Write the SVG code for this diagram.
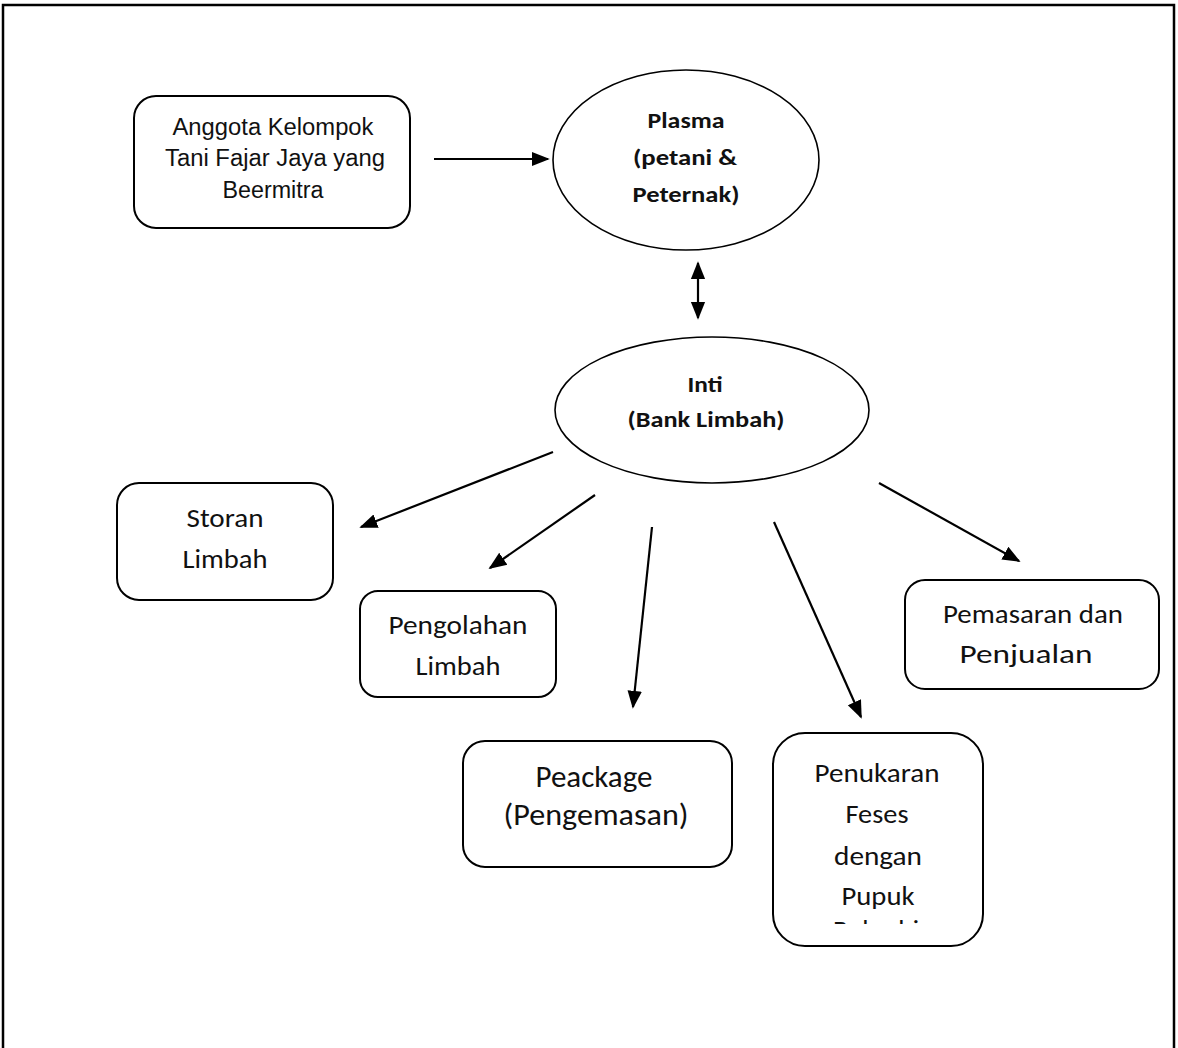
<svg xmlns="http://www.w3.org/2000/svg" width="1178" height="1048" viewBox="0 0 1178 1048">
<style>
.box{fill:#fff;stroke:#000;stroke-width:2}
.ell{fill:#fff;stroke:#000;stroke-width:1.6}
.arial{font-family:"Liberation Sans",Arial,sans-serif;font-size:23px;fill:#111;text-anchor:middle}
.cal{font-family:Carlito,Lato,"Open Sans",sans-serif;fill:#111;text-anchor:middle}
.bold{font-weight:bold;font-size:23px}
.con{stroke:#000;stroke-width:2.2;fill:none}
</style>
<defs>
<marker id="ahb" viewBox="0 0 10 10" refX="9" refY="5" markerWidth="18" markerHeight="18" markerUnits="userSpaceOnUse" orient="auto-start-reverse">
<path d="M0,1 L10,5 L0,9 z" fill="#000"/>
</marker>
<clipPath id="clipPen"><rect x="772" y="733" width="212" height="191"/></clipPath>
</defs>
<rect width="1178" height="1048" fill="#fff"/>
<path d="M3,1048 L3,5 L1174,5 L1174,1048" fill="none" stroke="#000" stroke-width="2.5"/>

<g id="anggota">
<rect class="box" x="134" y="96" width="276" height="132" rx="22"/>
<text class="arial" x="273" y="135" textLength="201" lengthAdjust="spacingAndGlyphs">Anggota Kelompok</text>
<text class="arial" x="275" y="166" textLength="220" lengthAdjust="spacingAndGlyphs">Tani Fajar Jaya yang</text>
<text class="arial" x="273" y="198" textLength="101" lengthAdjust="spacingAndGlyphs">Beermitra</text>
</g>
<g id="plasma">
<ellipse class="ell" cx="686" cy="160" rx="133" ry="90"/>
<text class="cal bold" x="686" y="128" textLength="77" lengthAdjust="spacingAndGlyphs">Plasma</text>
<text class="cal bold" x="685" y="165" textLength="104" lengthAdjust="spacingAndGlyphs">(petani &amp;</text>
<text class="cal bold" x="686" y="202" textLength="107" lengthAdjust="spacingAndGlyphs">Peternak)</text>
</g>
<g id="inti">
<ellipse class="ell" cx="712" cy="410" rx="157" ry="73"/>
<text class="cal bold" x="705" y="392" textLength="35" lengthAdjust="spacingAndGlyphs">Inti</text>
<text class="cal bold" x="706" y="427" textLength="157" lengthAdjust="spacingAndGlyphs">(Bank Limbah)</text>
</g>
<g id="storan">
<rect class="box" x="117" y="483" width="216" height="117" rx="22"/>
<text class="cal" font-size="26" x="225" y="527" textLength="77" lengthAdjust="spacingAndGlyphs">Storan</text>
<text class="cal" font-size="26" x="225" y="568" textLength="85" lengthAdjust="spacingAndGlyphs">Limbah</text>
</g>
<g id="pengolahan">
<rect class="box" x="360" y="591" width="196" height="106" rx="18"/>
<text class="cal" font-size="26" x="458" y="634" textLength="139" lengthAdjust="spacingAndGlyphs">Pengolahan</text>
<text class="cal" font-size="26" x="458" y="675" textLength="85" lengthAdjust="spacingAndGlyphs">Limbah</text>
</g>
<g id="peackage">
<rect class="box" x="463" y="741" width="269" height="126" rx="22"/>
<text class="cal" font-size="30" x="594" y="787" textLength="117" lengthAdjust="spacingAndGlyphs">Peackage</text>
<text class="cal" font-size="30" x="596" y="825" textLength="185" lengthAdjust="spacingAndGlyphs">(Pengemasan)</text>
</g>
<g id="penukaran">
<rect class="box" x="773" y="733" width="210" height="213" rx="32"/>
<g clip-path="url(#clipPen)">
<text class="cal" font-size="26" x="877" y="782" textLength="125" lengthAdjust="spacingAndGlyphs">Penukaran</text>
<text class="cal" font-size="26" x="877" y="823" textLength="63" lengthAdjust="spacingAndGlyphs">Feses</text>
<text class="cal" font-size="26" x="878" y="865" textLength="88" lengthAdjust="spacingAndGlyphs">dengan</text>
<text class="cal" font-size="26" x="878" y="905" textLength="73" lengthAdjust="spacingAndGlyphs">Pupuk</text>
<text class="cal" font-size="26" x="876" y="939" textLength="86" lengthAdjust="spacingAndGlyphs">Bokashi</text>
</g>
</g>
<g id="pemasaran">
<rect class="box" x="905" y="580" width="254" height="109" rx="20"/>
<text class="cal" font-size="26" x="1033" y="623" textLength="180" lengthAdjust="spacingAndGlyphs">Pemasaran dan</text>
<text class="cal" font-size="26" x="1026" y="663" textLength="133" lengthAdjust="spacingAndGlyphs">Penjualan</text>
</g>

<g id="connectors">
<line class="con" x1="434" y1="159" x2="548" y2="159" marker-end="url(#ahb)"/>
<line class="con" x1="698" y1="263" x2="698" y2="318" marker-start="url(#ahb)" marker-end="url(#ahb)"/>
<line class="con" x1="553" y1="452" x2="361" y2="527" marker-end="url(#ahb)"/>
<line class="con" x1="595" y1="495" x2="490" y2="568" marker-end="url(#ahb)"/>
<line class="con" x1="652" y1="527" x2="633" y2="707" marker-end="url(#ahb)"/>
<line class="con" x1="774" y1="522" x2="861" y2="717" marker-end="url(#ahb)"/>
<line class="con" x1="879" y1="483" x2="1019" y2="561" marker-end="url(#ahb)"/>
</g>
</svg>
